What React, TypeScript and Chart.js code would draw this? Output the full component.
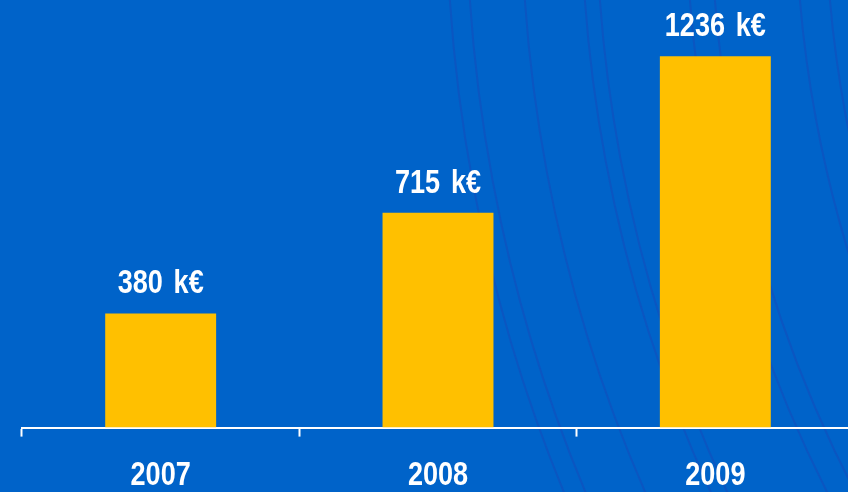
import React, { useEffect, useRef } from "react";
import { Chart, registerables } from "chart.js";

Chart.register(...registerables);

const categories = ["2007", "2008", "2009"];
const revenue = [380, 715, 1236];
const valueLabels = ["380 k€", "715 k€", "1236 k€"];

const FONT = "'Liberation Sans', Arial, sans-serif";
const NARROW = 0.82;

function drawNarrowText(ctx: any, text: string, x: number, y: number) {
  ctx.save();
  ctx.translate(x, y);
  ctx.scale(NARROW, 1);
  ctx.fillText(text, 0, 0);
  ctx.restore();
}

const backgroundArcsPlugin = {
  id: "backgroundArcs",
  beforeDraw(chart: any) {
    const ctx = chart.ctx;
    ctx.save();
    ctx.strokeStyle = "rgba(35, 55, 175, 0.3)";
    ctx.lineWidth = 2;
    const cx = 2000;
    const cy = -100;
    [450, 470, 525, 585, 600, 690, 715, 800, 830].forEach((x0) => {
      const r = Math.sqrt((cx - x0) * (cx - x0) + (cy - 0) * (cy - 0));
      ctx.beginPath();
      ctx.arc(cx, cy, r, Math.PI * 0.6, Math.PI * 1.05);
      ctx.stroke();
    });
    ctx.restore();
  },
};

const labelsPlugin = {
  id: "narrowLabels",
  afterDraw(chart: any) {
    const ctx = chart.ctx;
    ctx.save();
    ctx.fillStyle = "#ffffff";
    ctx.font = `bold 33px ${FONT}`;
    ctx.textAlign = "center";
    ctx.textBaseline = "alphabetic";
    try {
      (ctx as any).wordSpacing = "4px";
    } catch (e) {}
    const meta = chart.getDatasetMeta(0);
    meta.data.forEach((bar: any, i: number) => {
      drawNarrowText(ctx, valueLabels[i], bar.x, bar.y - 20);
    });
    const xScale = chart.scales.x;
    categories.forEach((c, i) => {
      drawNarrowText(ctx, c, xScale.getPixelForTick(i), 485);
    });
    ctx.restore();
  },
};

export default function App() {
  const ref = useRef<HTMLCanvasElement | null>(null);
  useEffect(() => {
    if (!ref.current) return;
    const chart = new Chart(ref.current, {
      type: "bar",
      data: {
        labels: categories,
        datasets: [
          {
            data: revenue,
            backgroundColor: "#FFC000",
            borderWidth: 0,
            categoryPercentage: 1,
            barPercentage: 0.4,
          },
        ],
      },
      options: {
        animation: false,
        responsive: false,
        maintainAspectRatio: false,
        layout: { padding: { left: 22, right: 16, top: 7, bottom: 0 } },
        plugins: { legend: { display: false }, tooltip: { enabled: false } },
        scales: {
          x: {
            border: { display: true, color: "#ffffff", width: 2 },
            grid: {
              display: true,
              offset: true,
              drawOnChartArea: false,
              drawTicks: true,
              tickLength: 9,
              tickWidth: 2,
              tickColor: "#ffffff",
              color: "#ffffff",
            },
            ticks: {
              color: "rgba(0,0,0,0)",
              font: { family: FONT, size: 32, weight: "bold", lineHeight: 1.2 },
              padding: 8.5,
            },
          },
          y: { display: false, min: 0, max: 1400 },
        },
      },
      plugins: [backgroundArcsPlugin, labelsPlugin],
    });
    return () => chart.destroy();
  }, []);
  return (
    <div
      style={{
        position: "fixed",
        left: 0,
        top: 0,
        width: 848,
        height: 492,
        overflow: "hidden",
        background: "#0063C9",
      }}
    >
      <canvas ref={ref} width={870} height={492} style={{ display: "block", width: 870, height: 492 }} />
    </div>
  );
}
